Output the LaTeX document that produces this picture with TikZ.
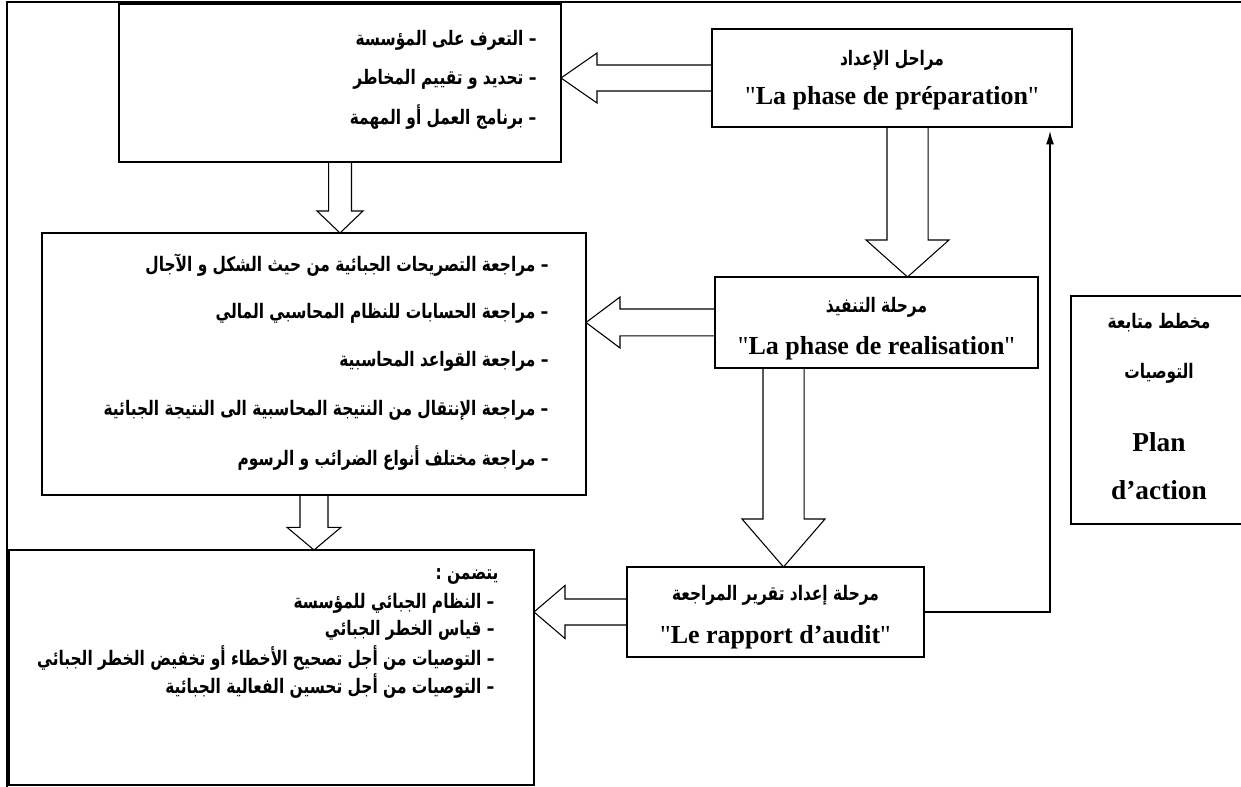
\documentclass[tikz,border=0pt]{standalone}
\usepackage{fontspec}
\setmainfont{Liberation Serif}[Ligatures=TeXOff]
\newfontfamily\arabicfont[Script=Arabic, FakeStretch=0.77]{DejaVu Sans}
\TeXXeTstate=1
\usetikzlibrary{calc,arrows.meta}

\tikzset{every picture/.style={line width=0.75pt}}
\tikzset{
  box/.style={draw, line width=1pt, inner sep=0pt, outer sep=0pt},
  hollow/.style={draw, line width=0.8pt, line join=miter},
  artxt/.style={inner sep=0.75pt, font=\fontsize{15}{18}\arabicfont\bfseries},
  frtxt/.style={inner sep=0.75pt, font=\fontsize{19.5}{23}\selectfont\bfseries},
  plantxt/.style={inner sep=0.75pt, font=\fontsize{20.5}{24}\selectfont\bfseries},
}
\newcommand{\artx}[1]{\beginR #1\endR}
\newcommand{\qt}{{\mdseries\char"22}}
% hollow block arrow: from, to, shaft half width, head half width, head length
\newcommand{\blockarrow}[5]{%
  \coordinate (ba-s) at (#1);
  \coordinate (ba-t) at (#2);
  \coordinate (ba-b) at ($(ba-t)!#5!(ba-s)$);
  \draw[hollow] ($(ba-s)!#3!90:(ba-t)$) -- ($(ba-b)!#3!90:(ba-t)$) -- ($(ba-b)!#4!90:(ba-t)$) -- (ba-t)
    -- ($(ba-b)!#4!-90:(ba-t)$) -- ($(ba-b)!#3!-90:(ba-t)$) -- ($(ba-s)!#3!-90:(ba-t)$);
}

\begin{document}
\begin{tikzpicture}[x=0.75pt,y=0.75pt,yscale=-1,xscale=1]
\useasboundingbox (0,0) rectangle (1241,787);

%Frame
\draw [line width=1pt] (7,2) rectangle (1260,800);

%Boxes
\node [box, minimum width=331.5pt, minimum height=118.5pt] (a) at (340,83) {};
\node [box, minimum width=270pt, minimum height=73.5pt] (p) at (892,78) {};
\node [box, minimum width=408pt, minimum height=196.5pt] (b) at (314,364) {};
\node [box, minimum width=242.25pt, minimum height=68.25pt] (r) at (876.5,322.5) {};
\node [box, minimum width=393.75pt, minimum height=176.25pt] (c) at (271.5,667.5) {};
\node [box, minimum width=222.75pt, minimum height=67.5pt] (d) at (775.5,612) {};
\node [box, minimum width=135pt, minimum height=171pt] (plan) at (1161,410) {};

%Texts of the phases
\node [artxt] (p-ar) at (892,60) {\artx{مراحل الإعداد}};
\node [frtxt] (p-fr) at (892,98) {\qt La phase de préparation\qt};
\node [artxt] (r-ar) at (876.5,307) {\artx{مرحلة التنفيذ}};
\node [frtxt] (r-fr) at (876.5,348) {\qt La phase de realisation\qt};
\node [artxt] (d-ar) at (775.5,595) {\artx{مرحلة إعداد تقرير المراجعة}};
\node [frtxt] (d-fr) at (775.5,637) {\qt Le rapport d’audit\qt};

%Lists
\node [artxt, anchor=east] (a1) at (538,40) {\artx{– التعرف على المؤسسة}};
\node [artxt, anchor=east] (a2) at (538,79) {\artx{– تحديد و تقييم المخاطر}};
\node [artxt, anchor=east] (a3) at (538,117) {\artx{– برنامج العمل أو المهمة}};

\node [artxt, anchor=east] (b1) at (550,265) {\artx{– مراجعة التصريحات الجبائية من حيث الشكل و الآجال}};
\node [artxt, anchor=east] (b2) at (550,313) {\artx{– مراجعة الحسابات للنظام المحاسبي المالي}};
\node [artxt, anchor=east] (b3) at (550,361) {\artx{– مراجعة القواعد المحاسبية}};
\node [artxt, anchor=east] (b4) at (550,410) {\artx{– مراجعة الإنتقال من النتيجة المحاسبية الى النتيجة الجبائية}};
\node [artxt, anchor=east] (b5) at (550,458) {\artx{– مراجعة مختلف أنواع الضرائب و الرسوم}};

\node [artxt, anchor=east] (c0) at (500,576) {\artx{يتضمن :}};
\node [artxt, anchor=east] (c1) at (496,603) {\artx{– النظام الجبائي للمؤسسة}};
\node [artxt, anchor=east] (c2) at (496,630) {\artx{– قياس الخطر الجبائي}};
\node [artxt, anchor=east] (c3) at (496,658) {\artx{– التوصيات من أجل تصحيح الأخطاء أو تخفيض الخطر الجبائي}};
\node [artxt, anchor=east] (c4) at (496,686) {\artx{– التوصيات من أجل تحسين الفعالية الجبائية}};

\node [artxt] (plan1) at (1159,323) {\artx{مخطط متابعة}};
\node [artxt] (plan2) at (1159,373) {\artx{التوصيات}};
\node [plantxt] (plan3) at (1159,442) {Plan};
\node [plantxt] (plan4) at (1159,490) {d’action};

%Block arrows
\coordinate (pr) at ($(p.south)+(15.5,0)$);
\coordinate (rd) at ($(d.north)+(8,0)$);
\blockarrow{p.west}{a.east |- p.west}{9.75pt}{18.75pt}{27pt}
\blockarrow{a.south}{a.south |- b.north}{8.6pt}{17.25pt}{16.5pt}
\blockarrow{pr}{pr |- r.north}{15.4pt}{31.1pt}{27.75pt}
\blockarrow{r.west}{b.east |- r.west}{10.1pt}{19.1pt}{25.5pt}
\blockarrow{rd |- r.south}{rd}{15.4pt}{31.1pt}{36pt}
\blockarrow{b.south}{b.south |- c.north}{10.5pt}{20.25pt}{17pt}
\blockarrow{d.west}{c.east |- d.west}{9.75pt}{19.9pt}{23.25pt}

%Back to preparation
\coordinate (fb) at ($(p.south east)+(-22,4)$);
\draw [-{Latex[length=10pt,width=6pt]}, line width=1pt] (d.east) -| (fb);

\end{tikzpicture}
\end{document}
